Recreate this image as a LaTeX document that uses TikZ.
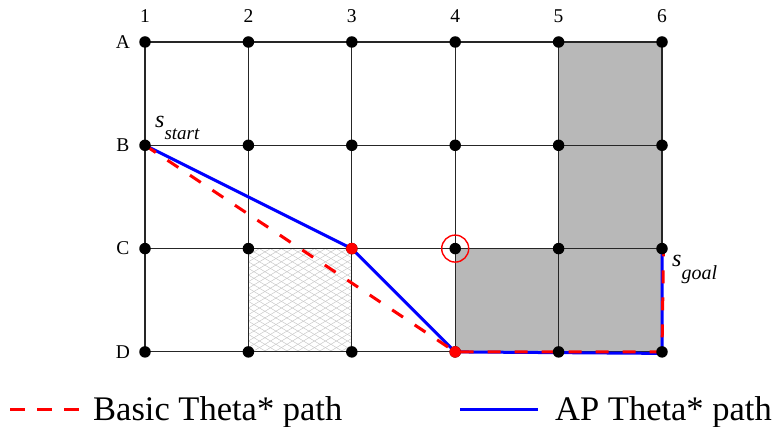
\documentclass[tikz,border=0pt]{standalone}
\usepackage{fontspec}
\setmainfont{Liberation Serif}
\usetikzlibrary{calc}
\begin{document}
\begin{tikzpicture}[x=1pt,y=-1pt,
  gridline/.style={line width=1.1pt,draw=black!85},
  dot/.style={circle,fill=black,inner sep=0pt,minimum size=11.5pt},
  reddot/.style={circle,fill=red,inner sep=0pt,minimum size=11.5pt},
  lbl/.style={font=\fontsize{19.5}{19.5}\selectfont,inner sep=0pt},
  legtext/.style={font=\fontsize{34.5}{34.5}\selectfont,inner sep=0pt,anchor=base west},
  apline/.style={draw=blue,line width=3pt},
  basicline/.style={draw=red,line width=3pt,dash pattern=on 13pt off 14pt},
  hatch/.style={draw=black!22,line width=0.5pt},
  obst/.style={fill=black!28}]
\useasboundingbox (0,0) rectangle (773,427);
% grid coordinates
\foreach \c [count=\i from 0] in {1,...,6} {
  \foreach \r [count=\j from 0] in {A,B,C,D} {
    \coordinate (\r\c) at (145+\i*103.4, 42+\j*103.3);
  }
}
% obstacles
\fill[obst] (A5) rectangle (D6);
\fill[obst] (C4) rectangle (D5);
% hatched cell
\begin{scope}
  \clip (C2) rectangle (D3);
  \foreach \k in {-20,...,30} {
    \draw[hatch] ($(C2)+(\k*11,0)$) -- ++(175,105);
    \draw[hatch] ($(C2)+(\k*11,0)$) -- ++(-175,105);
  }
\end{scope}
% grid lines
\foreach \r in {A,B,C,D} { \draw[gridline] (\r1) -- (\r6); }
\foreach \c in {1,...,6} { \draw[gridline] (A\c) -- (D\c); }
% labels
\foreach \c in {1,...,6} { \node[lbl] (t\c) at ($(A\c)+(0,-26)$) {\c}; }
\foreach \r in {A,B,C,D} { \node[lbl] (l\r) at ($(\r1)+(-22,0)$) {\r}; }
% paths
\draw[apline,line join=round] (B1) -- (C3) -- (D4) -- ($(D6)+(0,1.5)$) -- (C6);
\draw[basicline] (B1) -- (D4) -- (D6) -- ($(C6)+(1.5,0)$);
% dots
\foreach \r in {A,B,C,D} { \foreach \c in {1,...,6} { \node[dot] (n\r\c) at (\r\c) {}; } }
\node[reddot] (rC3) at (C3) {};
\node[reddot] (rD4) at (D4) {};
\node[circle,draw=red,line width=1.4pt,minimum size=27pt,inner sep=0pt] (circ) at (C4) {};
% s labels
\node[anchor=base west,inner sep=0pt] (sstart) at (155,128) {\fontsize{24}{24}\selectfont\itshape s\raisebox{-12pt}{\fontsize{19}{19}\selectfont start}};
\node[anchor=base west,inner sep=0pt] (sgoal) at (672,267) {\fontsize{24}{24}\selectfont\itshape s\raisebox{-13pt}{\fontsize{20}{20}\selectfont goal}};
% legend
\coordinate (lr1) at (10,409); \coordinate (lr2) at (82,409);
\draw[basicline,dash pattern=on 15pt off 12pt] (lr1) -- (lr2);
\node[legtext] (lbasic) at (93,420) {Basic Theta* path};
\coordinate (lb1) at (460,409); \coordinate (lb2) at (538,409);
\draw[apline] (lb1) -- (lb2);
\node[legtext] (lap) at (555,420) {AP Theta* path};
\end{tikzpicture}
\end{document}
